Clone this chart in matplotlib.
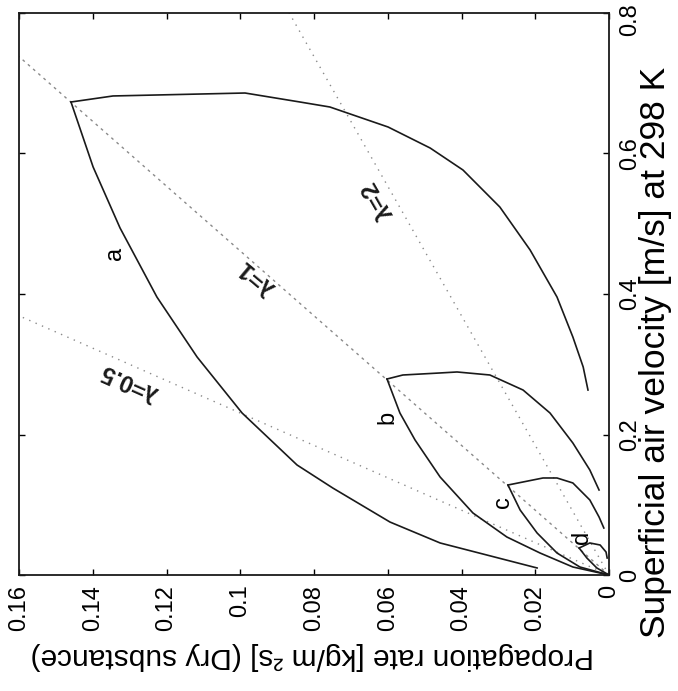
import matplotlib
matplotlib.use("Agg")
import matplotlib.pyplot as plt
from matplotlib import font_manager
from matplotlib.transforms import ScaledTranslation

# whole chart is drawn turned a quarter turn: horizontal = propagation rate, vertical = air velocity
names = {f.name for f in font_manager.fontManager.ttflist}
plt.rcParams['font.family'] = ['Liberation Sans', 'DejaVu Sans']
narrow = 'Liberation Sans Narrow' if 'Liberation Sans Narrow' in names else None

# curve a (rate, velocity)
a_low_rate = [0.1459, 0.1399, 0.1326, 0.1226, 0.1117, 0.0995, 0.0846, 0.0749, 0.0594, 0.0458, 0.0195]
a_low_vel = [0.6733, 0.5808, 0.4940, 0.3957, 0.3103, 0.2306, 0.1566, 0.1238, 0.0754, 0.0456, 0.0100]
a_up_rate = [0.1459, 0.1345, 0.0987, 0.0838, 0.0757, 0.0599, 0.0485, 0.0396, 0.0296, 0.0214, 0.0141, 0.0098, 0.0070, 0.0057]
a_up_vel = [0.6733, 0.6819, 0.6861, 0.6733, 0.6662, 0.6377, 0.6078, 0.5765, 0.5238, 0.4627, 0.3957, 0.3388, 0.2961, 0.2633]

# curve b
b_low_rate = [0.0602, 0.0567, 0.0526, 0.0458, 0.0369, 0.0277, 0.0187, 0.0098, 0.0]
b_low_vel = [0.2790, 0.2306, 0.1922, 0.1395, 0.0883, 0.0541, 0.0313, 0.0114, 0.0]
b_up_rate = [0.0602, 0.0559, 0.0458, 0.0412, 0.0323, 0.0233, 0.0160, 0.0098, 0.0052, 0.0027]
b_up_vel = [0.2790, 0.2847, 0.2876, 0.2890, 0.2847, 0.2633, 0.2306, 0.1879, 0.1495, 0.1210]

# curve c
c_low_rate = [0.0274, 0.0241, 0.0195, 0.0141, 0.0079, 0.0]
c_low_vel = [0.1281, 0.0925, 0.0598, 0.0313, 0.0114, 0.0]
c_up_rate = [0.0274, 0.0179, 0.0141, 0.0098, 0.0052, 0.0027, 0.0014]
c_up_vel = [0.1281, 0.1381, 0.1381, 0.1310, 0.1068, 0.0826, 0.0669]

# curve d
d_low_rate = [0.0081, 0.0060, 0.0033, 0.0]
d_low_vel = [0.0384, 0.0242, 0.0100, 0.0]
d_up_rate = [0.0081, 0.0052, 0.0024, 0.0008, 0.0005]
d_up_vel = [0.0384, 0.0456, 0.0427, 0.0327, 0.0242]

# lambda lines, end points
lam_rate = [0.0, 0.16]
lam05_vel = [0.0, 0.369]
lam1_vel = [0.0, 0.738]
lam2_vel = [0.0, 1.476]

rate_ticks = [0, 0.02, 0.04, 0.06, 0.08, 0.1, 0.12, 0.14, 0.16]
vel_ticks = [0, 0.2, 0.4, 0.6, 0.8]

fig = plt.figure(figsize=(6.78, 6.91), dpi=100)
ax = fig.add_axes([19 / 678, 116 / 691, 590 / 678, 562 / 691])

grey = '#8a8a8a'
ax.plot(lam_rate, lam05_vel, color=grey, lw=1, ls=(0, (1, 4)))
ax.plot(lam_rate, lam1_vel, color=grey, lw=1, ls=(0, (2, 3)))
ax.plot(lam_rate, lam2_vel, color=grey, lw=1, ls=(0, (1, 4)))

for r, v in [(a_low_rate, a_low_vel), (a_up_rate, a_up_vel),
             (b_low_rate, b_low_vel), (b_up_rate, b_up_vel),
             (c_low_rate, c_low_vel), (c_up_rate, c_up_vel),
             (d_low_rate, d_low_vel), (d_up_rate, d_up_vel)]:
    ax.plot(r, v, color='#1a1a1a', lw=1.2)

ax.set_xlim(0.16, 0)
ax.set_ylim(0, 0.8)
ax.set_xticks(rate_ticks)
ax.set_xticklabels(['0', '0.02', '0.04', '0.06', '0.08', '0.1', '0.12', '0.14', '0.16'],
                   rotation=90, va='top', ha='center')
ax.set_yticks(vel_ticks)
ax.set_yticklabels(['0', '0.2', '0.4', '0.6', '0.8'], rotation=90, va='center', ha='left')
ax.tick_params(direction='in', length=4, width=1, labelsize=17,
               top=True, bottom=True, left=True, right=True,
               labelleft=False, labelright=True, pad=7)
# keep the top velocity label inside the picture
top_lab = ax.get_yticklabels()[-1]
top_lab.set_transform(top_lab.get_transform() + ScaledTranslation(0, -5 / 72, fig.dpi_scale_trans))
for s in ax.spines.values():
    s.set_linewidth(1.3)
    s.set_color('#1a1a1a')

# curve letters
lab = dict(fontsize=17, rotation=90, ha='center', va='center')
ax.text(0.134, 0.458, 'a', **lab)
ax.text(0.0602, 0.225, 'b', **lab)
ax.text(0.0288, 0.104, 'c', **lab)
ax.text(0.0073, 0.054, 'd', **lab)

lt = dict(fontsize=17, fontweight='bold', ha='center', va='center', color='#1a1a1a')
ax.text(0.0955, 0.424, 'λ=1', rotation=140, **lt)
ax.text(0.130, 0.275, 'λ=0.5', rotation=156, **lt)
ax.text(0.0627, 0.534, 'λ=2', rotation=120, **lt)

# axis titles
fig.text(656 / 678, 1 - 352 / 691, 'Superficial air velocity [m/s] at 298 K',
         rotation=90, ha='center', va='center', fontsize=25.5)
if narrow:
    fig.text(312 / 678, 1 - 656 / 691, 'Propagation rate [kg/m ²s] (Dry substance)',
             rotation=180, ha='center', va='center', fontsize=26, family=narrow)
else:
    fig.text(312 / 678, 1 - 656 / 691, 'Propagation rate [kg/m ²s] (Dry substance)',
             rotation=180, ha='center', va='center', fontsize=21.5)

fig.savefig('out.png', dpi=100)
